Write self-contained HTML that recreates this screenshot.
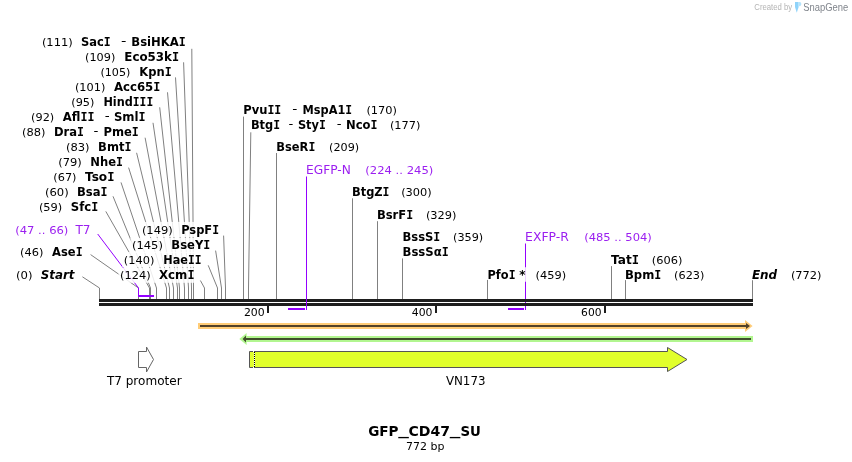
<!DOCTYPE html>
<html><head><meta charset="utf-8"><title>GFP_CD47_SU</title>
<style>
html,body{margin:0;padding:0;background:#fff;overflow:hidden;}
svg{display:block;will-change:transform;}
text{font-family:"DejaVu Sans","Liberation Sans",sans-serif;}
</style></head>
<body>
<svg width="852" height="462" viewBox="0 0 852 462">
<rect width="852" height="462" fill="#fff"/>
<path d="M191.8,48.8 L193.5,288 L193.5,299" fill="none" stroke="#808080" stroke-width="1"/>
<path d="M183.6,62.3 L191.5,288 L191.5,299" fill="none" stroke="#808080" stroke-width="1"/>
<path d="M175.5,77.4 L188.5,288 L188.5,299" fill="none" stroke="#808080" stroke-width="1"/>
<path d="M167.5,92.3 L184.5,288 L184.5,299" fill="none" stroke="#808080" stroke-width="1"/>
<path d="M159.7,107.3 L179.5,288 L179.5,299" fill="none" stroke="#808080" stroke-width="1"/>
<path d="M153,122.8 L177.5,288 L177.5,299" fill="none" stroke="#808080" stroke-width="1"/>
<path d="M145.1,137.7 L173.5,288 L173.5,299" fill="none" stroke="#808080" stroke-width="1"/>
<path d="M136.6,152.8 L169.5,288 L169.5,299" fill="none" stroke="#808080" stroke-width="1"/>
<path d="M128.6,167.6 L166.5,288 L166.5,299" fill="none" stroke="#808080" stroke-width="1"/>
<path d="M121,182.4 L156.5,288 L156.5,299" fill="none" stroke="#808080" stroke-width="1"/>
<path d="M113,196.3 L150.5,288 L150.5,299" fill="none" stroke="#808080" stroke-width="1"/>
<path d="M105.8,211.4 L149.5,288 L149.5,299" fill="none" stroke="#808080" stroke-width="1"/>
<path d="M90.6,254.6 L138.5,288 L138.5,299" fill="none" stroke="#808080" stroke-width="1"/>
<path d="M223.6,235.6 L225.5,288 L225.5,299" fill="none" stroke="#808080" stroke-width="1"/>
<path d="M215.6,250.6 L221.5,288 L221.5,299" fill="none" stroke="#808080" stroke-width="1"/>
<path d="M208.2,265.3 L217.5,288 L217.5,299" fill="none" stroke="#808080" stroke-width="1"/>
<path d="M200.4,280.5 L204.5,288 L204.5,299" fill="none" stroke="#808080" stroke-width="1"/>
<path d="M82.4,276.8 L99.5,288 L99.5,299" fill="none" stroke="#808080" stroke-width="1"/>
<path d="M97.7,234 L138.5,288 L138.5,295" fill="none" stroke="#9400ff" stroke-width="1"/>
<g fill="#fff" fill-opacity="0.85"><rect x="40.4" y="34.4" width="146.9" height="15.1"/><rect x="83.5" y="49.4" width="97.1" height="15.1"/><rect x="98.9" y="64.0" width="74.2" height="15.1"/><rect x="73.4" y="79.2" width="88.5" height="15.1"/><rect x="69.8" y="94.0" width="84.9" height="15.1"/><rect x="29.6" y="109.0" width="117.5" height="15.1"/><rect x="20.5" y="124.0" width="119.8" height="15.1"/><rect x="64.5" y="139.2" width="68.4" height="15.1"/><rect x="56.7" y="154.0" width="67.8" height="15.1"/><rect x="51.8" y="169.0" width="64.2" height="15.1"/><rect x="43.4" y="184.2" width="65.6" height="15.1"/><rect x="37.4" y="199.0" width="62.4" height="15.1"/><rect x="18.6" y="244.3" width="65.5" height="15.1"/><rect x="140.4" y="221.9" width="80.2" height="15.1"/><rect x="130.4" y="237.8" width="81.4" height="15.1"/><rect x="122.3" y="251.9" width="80.7" height="15.1"/><rect x="118.5" y="267.7" width="77.5" height="15.1"/><rect x="241.7" y="102.2" width="156.8" height="15.1"/><rect x="249.4" y="117.0" width="172.6" height="15.1"/><rect x="274.8" y="139.0" width="85.9" height="15.1"/><rect x="350.5" y="184.0" width="82.8" height="15.1"/><rect x="375.4" y="207.8" width="82.6" height="15.1"/><rect x="401.0" y="229.2" width="83.7" height="15.1"/><rect x="401.0" y="244.0" width="49.2" height="15.1"/><rect x="486.0" y="267.3" width="81.7" height="15.1"/><rect x="609.6" y="252.5" width="74.3" height="15.1"/><rect x="623.5" y="267.3" width="82.4" height="15.1"/><rect x="14.5" y="267.1" width="61.5" height="15.1"/><rect x="750.4" y="267.1" width="72.7" height="15.1"/><rect x="13.7" y="222.4" width="78.3" height="15.1"/><rect x="304.6" y="162.4" width="130.2" height="15.1"/><rect x="523.6" y="229.2" width="129.7" height="15.1"/></g>
<path d="M243.5,116.6 L243.5,288 L243.5,299" fill="none" stroke="#808080" stroke-width="1"/>
<path d="M250.8,132.3 L248.5,288 L248.5,299" fill="none" stroke="#808080" stroke-width="1"/>
<path d="M276.5,153 L276.5,288 L276.5,299" fill="none" stroke="#808080" stroke-width="1"/>
<path d="M352.5,198.3 L352.5,288 L352.5,299" fill="none" stroke="#808080" stroke-width="1"/>
<path d="M377.5,221.2 L377.5,288 L377.5,299" fill="none" stroke="#808080" stroke-width="1"/>
<path d="M402.5,258.4 L402.5,288 L402.5,299" fill="none" stroke="#808080" stroke-width="1"/>
<path d="M487.5,279.9 L487.5,288 L487.5,299" fill="none" stroke="#808080" stroke-width="1"/>
<path d="M611.5,266.1 L611.5,288 L611.5,299" fill="none" stroke="#808080" stroke-width="1"/>
<path d="M625.5,280.1 L625.5,288 L625.5,299" fill="none" stroke="#808080" stroke-width="1"/>
<path d="M752.5,280.2 L752.5,299" fill="none" stroke="#808080" stroke-width="1"/>
<path d="M525.5,243.5 L525.5,267.3" stroke="#9400ff" fill="none"/>
<path d="M525.5,267.3 L525.5,281.7" stroke="#9400ff" stroke-opacity="0.18" fill="none"/>
<path d="M525.5,281.7 L525.5,310" stroke="#9400ff" fill="none"/>
<rect x="138" y="295" width="16" height="2" fill="#9400ff"/>
<rect x="99" y="299" width="654" height="3" fill="#1e1e1e"/>
<rect x="99" y="303" width="654" height="3" fill="#1e1e1e"/>
<path d="M306.5,176.5 L306.5,310" stroke="#9400ff" fill="none"/>
<rect x="288" y="308" width="17" height="2" fill="#9400ff"/>
<rect x="508" y="308" width="16" height="2" fill="#9400ff"/>
<rect x="267" y="306" width="2" height="7" fill="#1e1e1e"/>
<rect x="435" y="306" width="2" height="7" fill="#1e1e1e"/>
<rect x="604" y="306" width="2" height="7" fill="#1e1e1e"/>
<path d="M198,326 L746,326" stroke="#ffcc77" stroke-width="6" fill="none"/>
<path d="M745,320 L752.6,326 L745,332 Z" fill="#ffcc77"/>
<path d="M200,325 L746,325 L746,323 L750,326 L746,329 L746,327 L200,327 Z" fill="#524128"/>
<path d="M246,339 L753,339" stroke="#b2f690" stroke-width="6" fill="none"/>
<path d="M246.6,333 L239.3,339 L246.6,345 Z" fill="#b2f690"/>
<path d="M751,338 L246,338 L246,335.5 L242.6,339 L246,342.5 L246,340 L751,340 Z" fill="#3f4d2c"/>
<path d="M249.5,351.5 L667.5,351.5 L667.5,347.5 L687,359.5 L667.5,371.5 L667.5,367.5 L249.5,367.5 Z" fill="#e1ff2b" stroke="#555" stroke-width="1"/>
<rect x="253" y="351" width="1" height="17" fill="#fff"/>
<rect x="253" y="352" width="1" height="15" fill="#e6ff45"/>
<rect x="254" y="352" width="1" height="15" fill="#fff"/>
<line x1="254.5" y1="352" x2="254.5" y2="367" stroke="#000" stroke-width="1" stroke-dasharray="1,1"/>
<path d="M138.5,351.5 L146.5,351.5 L146.5,347 L153.5,359.5 L146.5,372 L146.5,367.5 L138.5,367.5 Z" fill="#fff" stroke="#666" stroke-width="1"/>
<path d="M795,2 L798.6,2 L798.6,7 L796.8,12.8 L795,7 Z" fill="#8fd3fa"/>
<path d="M798.6,2 L799.5,2 Q801.4,2 801.4,4.1 Q801.4,6.2 799.5,6.2 L798.6,6.2 Z" fill="#b5e3fb"/>
<text x="243.9" y="315.7" font-size="11" textLength="20.8" lengthAdjust="spacingAndGlyphs">200</text>
<text x="411.8" y="315.7" font-size="11" textLength="20.7" lengthAdjust="spacingAndGlyphs">400</text>
<text x="581.1" y="315.7" font-size="11" textLength="20.4" lengthAdjust="spacingAndGlyphs">600</text>
<text x="41.9" y="46.0" font-size="11" textLength="30.9" lengthAdjust="spacingAndGlyphs">(111)</text>
<text x="81.0" y="46.0" font-size="12" font-weight="bold" textLength="29.7" lengthAdjust="spacingAndGlyphs">Sac<tspan style="font-family:'DejaVu Sans Mono',monospace">I</tspan></text>
<text x="120.9" y="45.0" font-size="12" textLength="5.4" lengthAdjust="spacingAndGlyphs">-</text>
<text x="131.3" y="46.0" font-size="12" font-weight="bold" textLength="54.5" lengthAdjust="spacingAndGlyphs">BsiHKA<tspan style="font-family:'DejaVu Sans Mono',monospace">I</tspan></text>
<text x="85.0" y="61.0" font-size="11" textLength="30.3" lengthAdjust="spacingAndGlyphs">(109)</text>
<text x="124.3" y="61.0" font-size="12" font-weight="bold" textLength="54.8" lengthAdjust="spacingAndGlyphs">Eco53k<tspan style="font-family:'DejaVu Sans Mono',monospace">I</tspan></text>
<text x="100.4" y="75.6" font-size="11" textLength="30.0" lengthAdjust="spacingAndGlyphs">(105)</text>
<text x="139.3" y="75.6" font-size="12" font-weight="bold" textLength="32.3" lengthAdjust="spacingAndGlyphs">Kpn<tspan style="font-family:'DejaVu Sans Mono',monospace">I</tspan></text>
<text x="74.9" y="90.8" font-size="11" textLength="30.5" lengthAdjust="spacingAndGlyphs">(101)</text>
<text x="113.9" y="90.8" font-size="12" font-weight="bold" textLength="46.5" lengthAdjust="spacingAndGlyphs">Acc65<tspan style="font-family:'DejaVu Sans Mono',monospace">I</tspan></text>
<text x="71.3" y="105.6" font-size="11" textLength="23.1" lengthAdjust="spacingAndGlyphs">(95)</text>
<text x="103.4" y="105.6" font-size="12" font-weight="bold" textLength="49.8" lengthAdjust="spacingAndGlyphs">Hind<tspan style="font-family:'DejaVu Sans Mono',monospace">I</tspan><tspan style="font-family:'DejaVu Sans Mono',monospace">I</tspan><tspan style="font-family:'DejaVu Sans Mono',monospace">I</tspan></text>
<text x="31.1" y="120.6" font-size="11" textLength="23.2" lengthAdjust="spacingAndGlyphs">(92)</text>
<text x="62.8" y="120.6" font-size="12" font-weight="bold" textLength="31.7" lengthAdjust="spacingAndGlyphs">Afl<tspan style="font-family:'DejaVu Sans Mono',monospace">I</tspan><tspan style="font-family:'DejaVu Sans Mono',monospace">I</tspan></text>
<text x="104.7" y="119.6" font-size="12" textLength="4.9" lengthAdjust="spacingAndGlyphs">-</text>
<text x="113.9" y="120.6" font-size="12" font-weight="bold" textLength="31.7" lengthAdjust="spacingAndGlyphs">Sml<tspan style="font-family:'DejaVu Sans Mono',monospace">I</tspan></text>
<text x="22.0" y="135.6" font-size="11" textLength="23.4" lengthAdjust="spacingAndGlyphs">(88)</text>
<text x="53.9" y="135.6" font-size="12" font-weight="bold" textLength="30.0" lengthAdjust="spacingAndGlyphs">Dra<tspan style="font-family:'DejaVu Sans Mono',monospace">I</tspan></text>
<text x="93.5" y="134.6" font-size="12" textLength="4.9" lengthAdjust="spacingAndGlyphs">-</text>
<text x="103.4" y="135.6" font-size="12" font-weight="bold" textLength="35.4" lengthAdjust="spacingAndGlyphs">Pme<tspan style="font-family:'DejaVu Sans Mono',monospace">I</tspan></text>
<text x="66.0" y="150.8" font-size="11" textLength="23.6" lengthAdjust="spacingAndGlyphs">(83)</text>
<text x="98.1" y="150.8" font-size="12" font-weight="bold" textLength="33.3" lengthAdjust="spacingAndGlyphs">Bmt<tspan style="font-family:'DejaVu Sans Mono',monospace">I</tspan></text>
<text x="58.2" y="165.6" font-size="11" textLength="23.6" lengthAdjust="spacingAndGlyphs">(79)</text>
<text x="90.3" y="165.6" font-size="12" font-weight="bold" textLength="32.7" lengthAdjust="spacingAndGlyphs">Nhe<tspan style="font-family:'DejaVu Sans Mono',monospace">I</tspan></text>
<text x="53.3" y="180.6" font-size="11" textLength="23.2" lengthAdjust="spacingAndGlyphs">(67)</text>
<text x="85.0" y="180.6" font-size="12" font-weight="bold" textLength="29.5" lengthAdjust="spacingAndGlyphs">Tso<tspan style="font-family:'DejaVu Sans Mono',monospace">I</tspan></text>
<text x="44.9" y="195.8" font-size="11" textLength="23.8" lengthAdjust="spacingAndGlyphs">(60)</text>
<text x="77.0" y="195.8" font-size="12" font-weight="bold" textLength="30.5" lengthAdjust="spacingAndGlyphs">Bsa<tspan style="font-family:'DejaVu Sans Mono',monospace">I</tspan></text>
<text x="38.9" y="210.6" font-size="11" textLength="23.4" lengthAdjust="spacingAndGlyphs">(59)</text>
<text x="70.8" y="210.6" font-size="12" font-weight="bold" textLength="27.5" lengthAdjust="spacingAndGlyphs">Sfc<tspan style="font-family:'DejaVu Sans Mono',monospace">I</tspan></text>
<text x="20.1" y="255.9" font-size="11" textLength="23.4" lengthAdjust="spacingAndGlyphs">(46)</text>
<text x="52.1" y="255.9" font-size="12" font-weight="bold" textLength="30.5" lengthAdjust="spacingAndGlyphs">Ase<tspan style="font-family:'DejaVu Sans Mono',monospace">I</tspan></text>
<text x="141.9" y="233.5" font-size="11" textLength="30.9" lengthAdjust="spacingAndGlyphs">(149)</text>
<text x="181.2" y="233.5" font-size="12" font-weight="bold" textLength="37.9" lengthAdjust="spacingAndGlyphs">PspF<tspan style="font-family:'DejaVu Sans Mono',monospace">I</tspan></text>
<text x="131.9" y="249.4" font-size="11" textLength="31.0" lengthAdjust="spacingAndGlyphs">(145)</text>
<text x="171.3" y="249.4" font-size="12" font-weight="bold" textLength="39.0" lengthAdjust="spacingAndGlyphs">BseY<tspan style="font-family:'DejaVu Sans Mono',monospace">I</tspan></text>
<text x="123.8" y="263.5" font-size="11" textLength="30.6" lengthAdjust="spacingAndGlyphs">(140)</text>
<text x="163.3" y="263.5" font-size="12" font-weight="bold" textLength="38.2" lengthAdjust="spacingAndGlyphs">Hae<tspan style="font-family:'DejaVu Sans Mono',monospace">I</tspan><tspan style="font-family:'DejaVu Sans Mono',monospace">I</tspan></text>
<text x="120.0" y="279.3" font-size="11" textLength="30.6" lengthAdjust="spacingAndGlyphs">(124)</text>
<text x="159.0" y="279.3" font-size="12" font-weight="bold" textLength="35.5" lengthAdjust="spacingAndGlyphs">Xcm<tspan style="font-family:'DejaVu Sans Mono',monospace">I</tspan></text>
<text x="243.2" y="113.8" font-size="12" font-weight="bold" textLength="38.1" lengthAdjust="spacingAndGlyphs">Pvu<tspan style="font-family:'DejaVu Sans Mono',monospace">I</tspan><tspan style="font-family:'DejaVu Sans Mono',monospace">I</tspan></text>
<text x="292.3" y="112.8" font-size="12" textLength="5.1" lengthAdjust="spacingAndGlyphs">-</text>
<text x="302.6" y="113.8" font-size="12" font-weight="bold" textLength="49.6" lengthAdjust="spacingAndGlyphs">MspA1<tspan style="font-family:'DejaVu Sans Mono',monospace">I</tspan></text>
<text x="366.4" y="113.8" font-size="11" textLength="30.6" lengthAdjust="spacingAndGlyphs">(170)</text>
<text x="250.9" y="128.6" font-size="12" font-weight="bold" textLength="29.2" lengthAdjust="spacingAndGlyphs">Btg<tspan style="font-family:'DejaVu Sans Mono',monospace">I</tspan></text>
<text x="288.6" y="127.6" font-size="12" textLength="4.8" lengthAdjust="spacingAndGlyphs">-</text>
<text x="297.9" y="128.6" font-size="12" font-weight="bold" textLength="28.0" lengthAdjust="spacingAndGlyphs">Sty<tspan style="font-family:'DejaVu Sans Mono',monospace">I</tspan></text>
<text x="336.7" y="127.6" font-size="12" textLength="4.8" lengthAdjust="spacingAndGlyphs">-</text>
<text x="346.0" y="128.6" font-size="12" font-weight="bold" textLength="31.5" lengthAdjust="spacingAndGlyphs">Nco<tspan style="font-family:'DejaVu Sans Mono',monospace">I</tspan></text>
<text x="389.9" y="128.6" font-size="11" textLength="30.6" lengthAdjust="spacingAndGlyphs">(177)</text>
<text x="276.3" y="150.6" font-size="12" font-weight="bold" textLength="39.0" lengthAdjust="spacingAndGlyphs">BseR<tspan style="font-family:'DejaVu Sans Mono',monospace">I</tspan></text>
<text x="329.1" y="150.6" font-size="11" textLength="30.1" lengthAdjust="spacingAndGlyphs">(209)</text>
<text x="352.0" y="195.6" font-size="12" font-weight="bold" textLength="37.5" lengthAdjust="spacingAndGlyphs">BtgZ<tspan style="font-family:'DejaVu Sans Mono',monospace">I</tspan></text>
<text x="401.2" y="195.6" font-size="11" textLength="30.6" lengthAdjust="spacingAndGlyphs">(300)</text>
<text x="376.9" y="219.4" font-size="12" font-weight="bold" textLength="36.3" lengthAdjust="spacingAndGlyphs">BsrF<tspan style="font-family:'DejaVu Sans Mono',monospace">I</tspan></text>
<text x="425.9" y="219.4" font-size="11" textLength="30.6" lengthAdjust="spacingAndGlyphs">(329)</text>
<text x="402.5" y="240.8" font-size="12" font-weight="bold" textLength="37.8" lengthAdjust="spacingAndGlyphs">BssS<tspan style="font-family:'DejaVu Sans Mono',monospace">I</tspan></text>
<text x="453.0" y="240.8" font-size="11" textLength="30.2" lengthAdjust="spacingAndGlyphs">(359)</text>
<text x="402.5" y="255.6" font-size="12" font-weight="bold" textLength="46.2" lengthAdjust="spacingAndGlyphs">BssS&#945;<tspan style="font-family:'DejaVu Sans Mono',monospace">I</tspan></text>
<text x="487.5" y="278.9" font-size="12" font-weight="bold" textLength="28.0" lengthAdjust="spacingAndGlyphs">Pfo<tspan style="font-family:'DejaVu Sans Mono',monospace">I</tspan></text>
<text x="519.2" y="278.9" font-size="12" font-weight="bold">*</text>
<text x="535.6" y="278.9" font-size="11" textLength="30.6" lengthAdjust="spacingAndGlyphs">(459)</text>
<text x="611.1" y="264.1" font-size="12" font-weight="bold" textLength="28.0" lengthAdjust="spacingAndGlyphs">Tat<tspan style="font-family:'DejaVu Sans Mono',monospace">I</tspan></text>
<text x="651.8" y="264.1" font-size="11" textLength="30.6" lengthAdjust="spacingAndGlyphs">(606)</text>
<text x="625.0" y="278.9" font-size="12" font-weight="bold" textLength="36.3" lengthAdjust="spacingAndGlyphs">Bpm<tspan style="font-family:'DejaVu Sans Mono',monospace">I</tspan></text>
<text x="674.1" y="278.9" font-size="11" textLength="30.3" lengthAdjust="spacingAndGlyphs">(623)</text>
<text x="15.2" y="234.0" font-size="11" fill="#9b1ff0" textLength="53.2" lengthAdjust="spacingAndGlyphs">(47 .. 66)</text>
<text x="75.5" y="234.0" font-size="12" fill="#9b1ff0" textLength="15.0" lengthAdjust="spacingAndGlyphs">T7</text>
<text x="16.0" y="278.7" font-size="11" textLength="16.5" lengthAdjust="spacingAndGlyphs">(0)</text>
<text x="40.7" y="278.7" font-size="12" font-weight="bold" font-style="italic" textLength="33.8" lengthAdjust="spacingAndGlyphs">Start</text>
<text x="751.9" y="278.7" font-size="12" font-weight="bold" font-style="italic" textLength="25.3" lengthAdjust="spacingAndGlyphs">End</text>
<text x="790.9" y="278.7" font-size="11" textLength="30.7" lengthAdjust="spacingAndGlyphs">(772)</text>
<text x="306.1" y="174.0" font-size="12" fill="#9b1ff0" textLength="44.8" lengthAdjust="spacingAndGlyphs">EGFP-N</text>
<text x="365.3" y="174.0" font-size="11" fill="#9b1ff0" textLength="68.0" lengthAdjust="spacingAndGlyphs">(224 .. 245)</text>
<text x="525.1" y="240.8" font-size="12" fill="#9b1ff0" textLength="43.7" lengthAdjust="spacingAndGlyphs">EXFP-R</text>
<text x="584.2" y="240.8" font-size="11" fill="#9b1ff0" textLength="67.6" lengthAdjust="spacingAndGlyphs">(485 .. 504)</text>
<text x="445.9" y="384.7" font-size="12" textLength="39.6" lengthAdjust="spacingAndGlyphs">VN173</text>
<text x="106.9" y="384.6" font-size="12" textLength="74.7" lengthAdjust="spacingAndGlyphs">T7 promoter</text>
<text y="435.7" font-size="14" font-weight="bold"><tspan x="368.2" textLength="30.4" lengthAdjust="spacingAndGlyphs">GFP</tspan><tspan x="398.3" dy="-1" textLength="10.6" lengthAdjust="spacingAndGlyphs">_</tspan><tspan x="408.5" dy="1" textLength="41.6" lengthAdjust="spacingAndGlyphs">CD47</tspan><tspan x="449.8" dy="-1" textLength="10.6" lengthAdjust="spacingAndGlyphs">_</tspan><tspan x="460.4" dy="1" textLength="20.4" lengthAdjust="spacingAndGlyphs">SU</tspan></text>
<text x="406.0" y="449.8" font-size="11" textLength="38.4" lengthAdjust="spacingAndGlyphs">772 bp</text>
<text x="754.3" y="10.3" font-size="8.6" fill="#b4b4b4" style="font-family:'Liberation Sans',sans-serif" textLength="37.9" lengthAdjust="spacingAndGlyphs">Created by</text>
<text x="803.3" y="10.6" font-size="10" fill="#80858c" style="font-family:'Liberation Sans',sans-serif" textLength="45.0" lengthAdjust="spacingAndGlyphs">SnapGene</text>
</svg>
</body></html>
